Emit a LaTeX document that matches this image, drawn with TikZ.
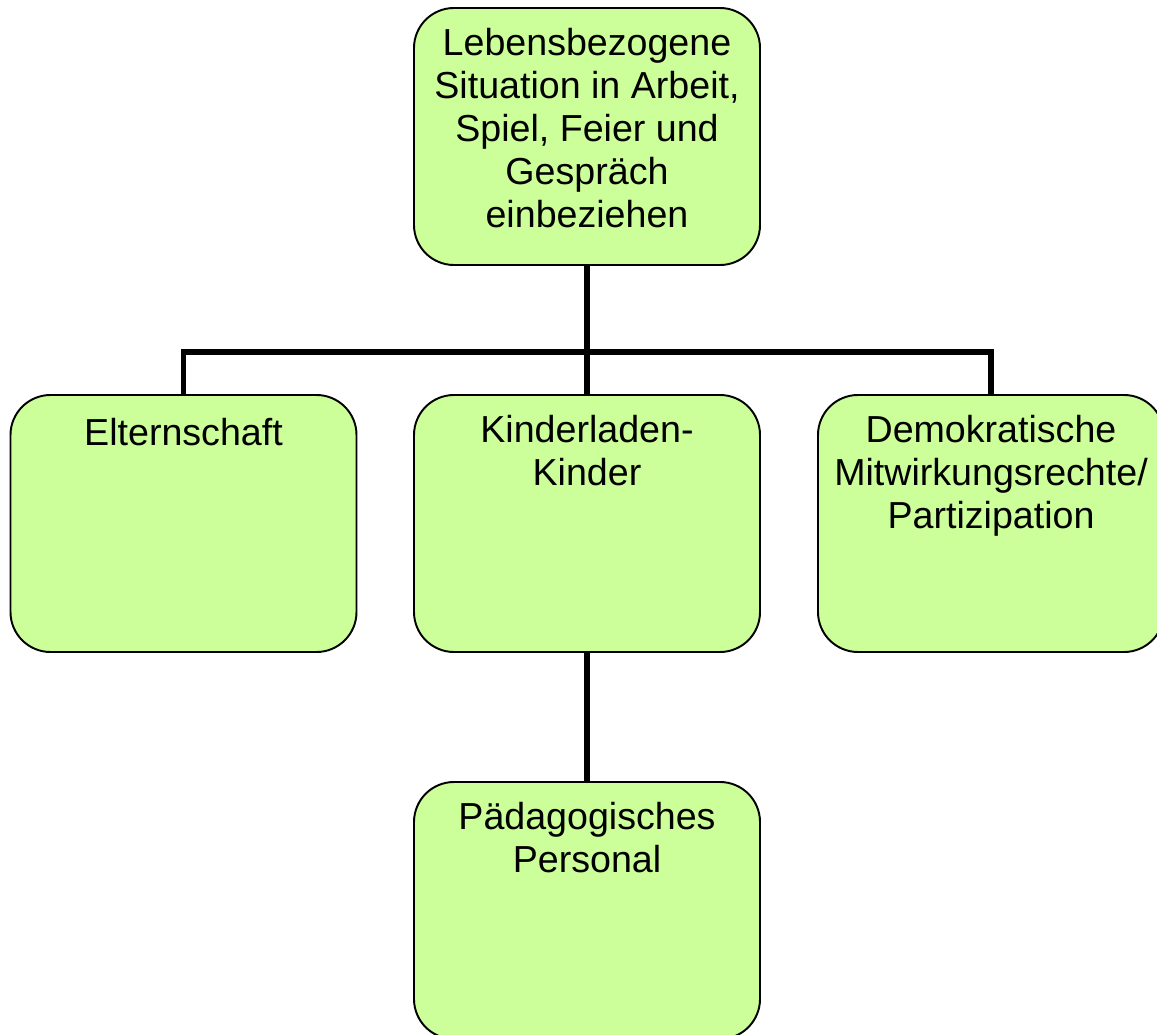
\documentclass[tikz,border=0pt]{standalone}
\usepackage{fontspec}
\setmainfont{Liberation Sans}
\usepackage{tikz}
\usetikzlibrary{positioning}
\definecolor{Hellgruen}{RGB}{204, 255, 153}

\begin{document}
\begin{tikzpicture}[
        box/.style={rectangle, rounded corners=0.8cm, draw=black, fill=Hellgruen, line width=1.1pt, minimum width=6.92cm, minimum height=5.14cm, inner sep=0pt},
        boxtext/.style={anchor=north, inner sep=0pt, align=center, font=\fontsize{21.4}{24.5}\selectfont, execute at begin node=\strut},
        conn/.style={line width=3.2pt, draw=black}
    ]
        \path[use as bounding box, clip] (0, 0) rectangle (23.14, -20.7);

        % ================= OBERSTE EBENE =================
        \node[box] (situation) at (11.74, -2.73) {};
        \node[boxtext] (situation_txt) at ([yshift=-0.42cm]situation.north) {Lebensbezogene\\Situation in Arbeit,\\Spiel, Feier und\\Gespräch\\einbeziehen};

        % ================= MITTLERE EBENE =================
        \node[box] (eltern) at (3.67, -10.47) {};
        \node[box] (kinder) at (11.74, -10.47) {};
        \node[box] (demokratie) at (19.82, -10.47) {};

        \node[boxtext] (eltern_txt) at ([yshift=-0.42cm]eltern.north) {Elternschaft};
        \node[boxtext] (kinder_txt) at ([yshift=-0.42cm]kinder.north) {Kinderladen-\\Kinder};
        \node[boxtext] (demokratie_txt) at ([yshift=-0.42cm]demokratie.north) {Demokratische\\Mitwirkungsrechte/\\Partizipation};

        % ================= UNTERSTE EBENE =================
        \node[box] (personal) at (11.74, -18.21) {};
        \node[boxtext] (personal_txt) at ([yshift=-0.42cm]personal.north) {Pädagogisches\\Personal};

        % ================= VERBINDUNGEN =================
        \coordinate (bar) at (11.74, -7.04);
        \draw[conn] (situation.south) -- (bar);
        \draw[conn] (eltern.north) |- (bar) -| (demokratie.north);
        \draw[conn] (bar) -- (kinder.north);
        \draw[conn] (kinder.south) -- (personal.north);
    \end{tikzpicture}
\end{document}
